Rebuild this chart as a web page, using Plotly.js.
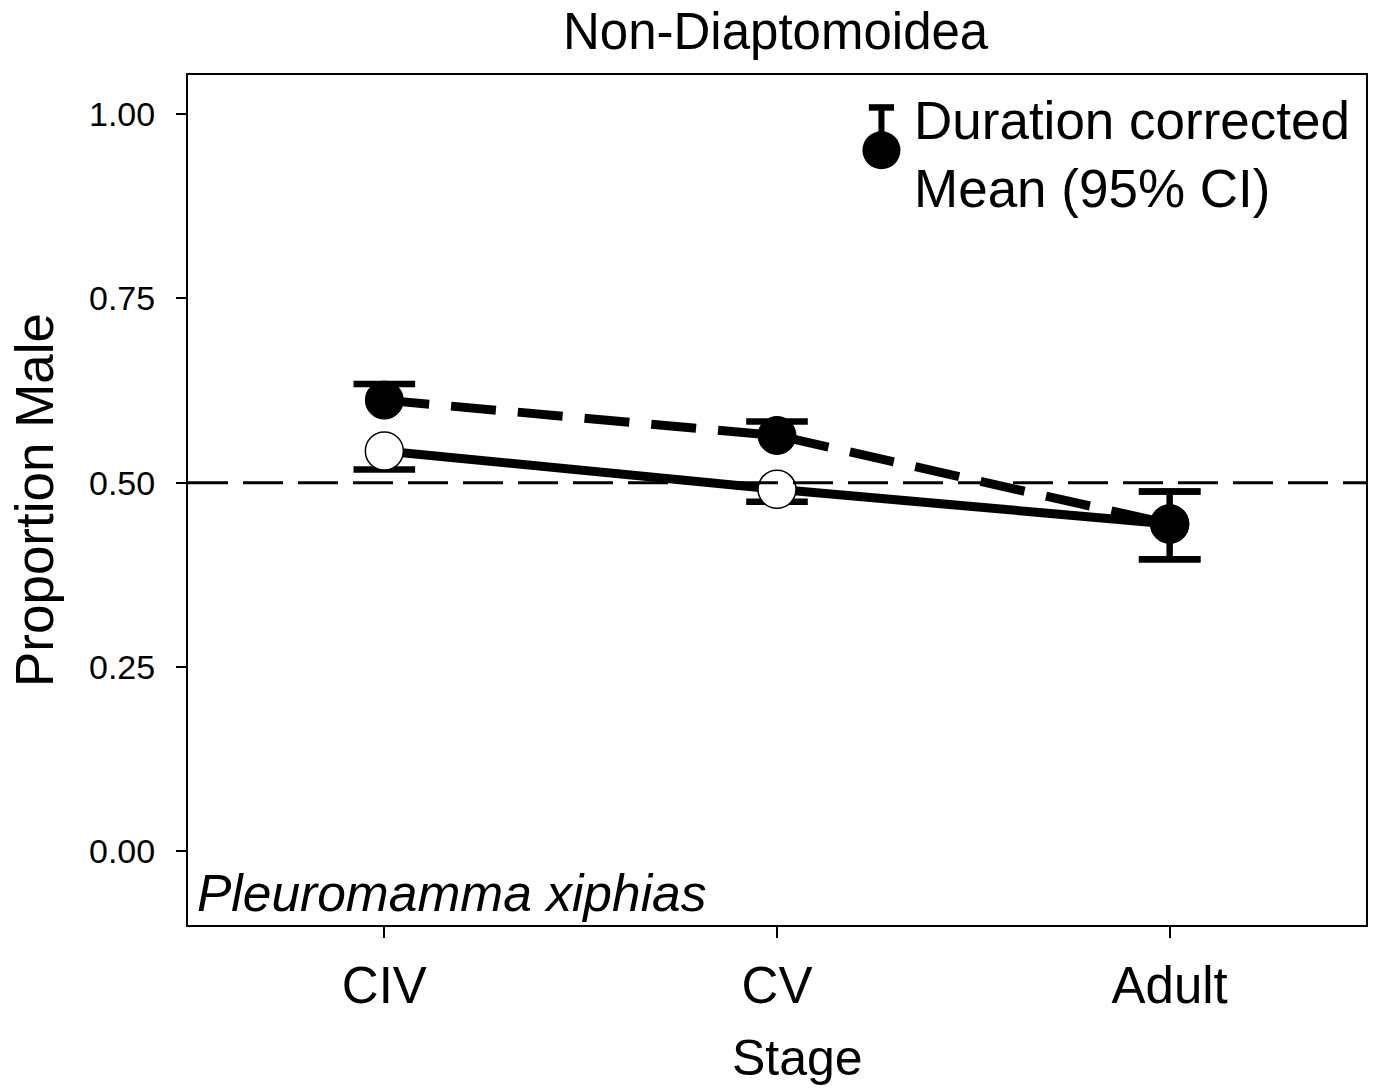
<!DOCTYPE html>
<html>
<head>
<meta charset="utf-8">
<script src="https://cdn.plot.ly/plotly-3.0.1.min.js"></script>
<style>html,body{margin:0;padding:0;background:#fff;}#chart{width:1374px;height:1089px;}</style>
</head>
<body>
<div id="chart"></div>
<script>
// Data
const stages = ['CIV', 'CV', 'Adult'];
const corrMean = [0.612, 0.564, 0.444];
const corrErrPlus = [0.022, 0.019, 0.044];
const corrErrMinus = [null, null, 0.048];
const rawMean = [0.543, 0.491, 0.444];
const rawErrPlus = [null, null, 0.044];
const rawErrMinus = [0.025, 0.017, 0.048];
const yTickVals = [0, 0.25, 0.5, 0.75, 1.0];
const yTickText = ['0.00', '0.25', '0.50', '0.75', '1.00'];
const refLine = 0.5;
// legend key (duration-corrected symbol)
const legendKeyX = [1.266];
const legendKeyY = [0.951];
const legendKeyErr = [0.058];

const FONT = 'Liberation Sans, Arial, Helvetica, sans-serif';
const xIdx = stages.map((s, i) => i);

// Build error bar stems and caps from the data arrays
function errorParts(xs, means, plus, minus) {
  const sx = [], sy = [], cx = [], cy = [];
  xs.forEach((x, i) => {
    if (plus[i] != null) {
      sx.push(x, x, null); sy.push(means[i], means[i] + plus[i], null);
      cx.push(x); cy.push(means[i] + plus[i]);
    }
    if (minus[i] != null) {
      sx.push(x, x, null); sy.push(means[i], means[i] - minus[i], null);
      cx.push(x); cy.push(means[i] - minus[i]);
    }
  });
  return {sx, sy, cx, cy};
}
const eCorr = errorParts(xIdx, corrMean, corrErrPlus, corrErrMinus);
const eRaw = errorParts(xIdx, rawMean, rawErrPlus, rawErrMinus);
const eKey = errorParts(legendKeyX, legendKeyY, legendKeyErr, [null]);

function stemTrace(e) {
  return {x: e.sx, y: e.sy, type: 'scatter', mode: 'lines', connectgaps: false,
    line: {color: '#000', width: 6}, showlegend: false, hoverinfo: 'skip'};
}
function capTrace(e, size) {
  return {x: e.cx, y: e.cy, type: 'scatter', mode: 'markers',
    marker: {symbol: 'line-ew', size: size, line: {color: '#000', width: 6.5}},
    showlegend: false, hoverinfo: 'skip'};
}

const traces = [
  stemTrace(eRaw), capTrace(eRaw, 44),
  stemTrace(eCorr), capTrace(eCorr, 44),
  stemTrace(eKey), capTrace(eKey, 18),
  {
    x: xIdx, y: rawMean, type: 'scatter', mode: 'lines+markers',
    line: {color: '#000', width: 9},
    marker: {symbol: 'circle', size: 38, color: '#fff', line: {color: '#000', width: 1.5}},
    showlegend: false, hoverinfo: 'skip'
  },
  {
    x: xIdx, y: corrMean, type: 'scatter', mode: 'lines+markers',
    line: {color: '#000', width: 9, dash: '45px,22px'},
    marker: {symbol: 'circle', size: 38, color: '#000', line: {color: '#000', width: 1}},
    showlegend: false, hoverinfo: 'skip'
  },
  {
    x: legendKeyX, y: legendKeyY, type: 'scatter', mode: 'markers',
    marker: {symbol: 'circle', size: 38, color: '#000'},
    showlegend: false, hoverinfo: 'skip'
  }
];

const layout = {
  width: 1374, height: 1089,
  margin: {l: 188, r: 8, t: 75, b: 164},
  paper_bgcolor: '#fff', plot_bgcolor: '#fff',
  font: {family: FONT, color: '#000'},
  title: {text: 'Non-Diaptomoidea', font: {family: FONT, size: 51, color: '#000'},
    x: 0.5645, xanchor: 'center', y: 0.971, yanchor: 'middle'},
  xaxis: {
    range: [-0.5, 2.5], tickvals: xIdx, ticktext: stages,
    ticks: 'outside', ticklen: 11, tickwidth: 2, tickcolor: '#000',
    showgrid: false, zeroline: false,
    showline: true, linecolor: '#000', linewidth: 2, mirror: true,
    tickfont: {family: FONT, size: 51, color: '#000'}, ticklabelstandoff: 4
  },
  yaxis: {
    range: [-0.1, 1.053], tickvals: yTickVals, ticktext: yTickText,
    ticks: 'outside', ticklen: 10, tickwidth: 2, tickcolor: '#000',
    showgrid: false, zeroline: false,
    showline: true, linecolor: '#000', linewidth: 2, mirror: true,
    tickfont: {family: FONT, size: 34, color: '#000'}, ticklabelstandoff: 14,
    title: {text: 'Proportion Male', font: {family: FONT, size: 53, color: '#000'}, standoff: 18}
  },
  shapes: [
    {type: 'line', xref: 'paper', x0: 0, x1: 1, yref: 'y', y0: refLine, y1: refLine,
      line: {color: '#000', width: 3, dash: '40px,15px'}, layer: 'above'}
  ],
  annotations: [
    {text: 'Duration corrected', xref: 'paper', yref: 'paper', x: 0.6146, y: 0.946,
      xanchor: 'left', yanchor: 'middle', showarrow: false,
      font: {family: FONT, size: 53, color: '#000'}},
    {text: 'Mean (95% CI)', xref: 'paper', yref: 'paper', x: 0.6146, y: 0.866,
      xanchor: 'left', yanchor: 'middle', showarrow: false,
      font: {family: FONT, size: 53, color: '#000'}},
    {text: '<i>Pleuromamma xiphias</i>', xref: 'paper', yref: 'paper', x: 0.006, y: 0.038,
      xanchor: 'left', yanchor: 'middle', showarrow: false,
      font: {family: FONT, size: 51.5, color: '#000'}},
    {text: 'Stage', xref: 'paper', yref: 'paper', x: 0.5170, y: -0.157,
      xanchor: 'center', yanchor: 'middle', showarrow: false,
      font: {family: FONT, size: 50, color: '#000'}}
  ]
};

Plotly.newPlot('chart', traces, layout, {staticPlot: true, displayModeBar: false});
</script>
</body>
</html>
